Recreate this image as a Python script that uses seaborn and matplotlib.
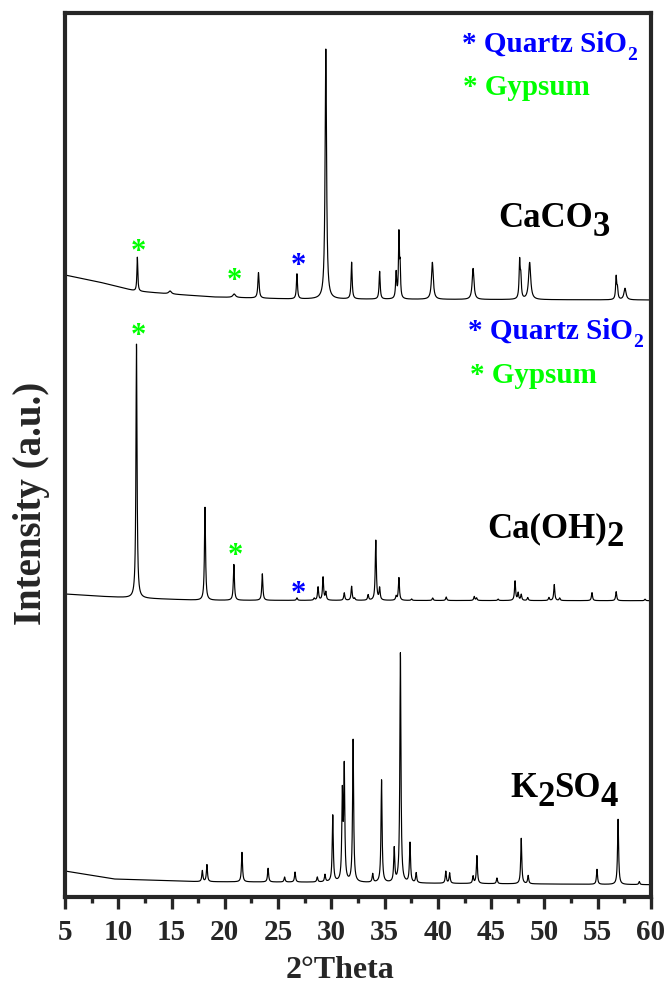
import numpy as np
import pandas as pd
import seaborn as sns
import matplotlib.pyplot as plt
from matplotlib.ticker import MultipleLocator

# ---- data (2theta in deg, intensity in a.u.) ----
# CaCO3 (top trace)
caco3_bg_x = [5.0, 8.2, 11.6, 14.9, 19.0, 26.2, 60.0]
caco3_bg_y = [622, 615, 606, 603, 600, 598, 597]
caco3_pos = [11.79, 14.86, 20.88, 23.16, 26.77, 29.48, 31.90, 34.53, 36.08, 36.34,
             36.45, 39.48, 43.30, 47.67, 47.78, 48.61, 56.73, 56.85, 57.56]
caco3_h = [34, 3, 3.5, 25.5, 25, 250, 36.7, 27.7, 26, 63,
           30, 37, 31, 37, 20, 37, 22.5, 10, 11.5]
caco3_w = [0.10, 0.30, 0.30, 0.14, 0.12, 0.16, 0.12, 0.12, 0.12, 0.10,
           0.10, 0.20, 0.20, 0.12, 0.12, 0.24, 0.12, 0.12, 0.24]

# Ca(OH)2 (middle trace)
caoh2_bg_x = [5.0, 8.3, 11.3, 17.7, 60.0]
caoh2_bg_y = [303, 300.7, 299, 296.7, 296.3]
caoh2_pos = [11.71, 18.14, 20.85, 23.52, 26.77, 28.39, 28.75, 29.22, 29.48, 31.21,
             31.90, 32.18, 33.45, 34.17, 34.53, 36.08, 36.34, 37.53, 39.51, 40.78,
             43.41, 43.63, 45.65, 47.24, 47.53, 47.82, 48.43, 50.42, 50.92, 51.43,
             54.46, 56.73, 59.44]
caoh2_h = [254, 93, 35.8, 26.5, 2.5, 2, 13.2, 23, 8, 7.5,
           14, 2, 5.5, 60, 12, 4, 22.7, 1.5, 2.5, 3.5,
           4, 2.5, 1.5, 19.4, 7.5, 6, 3, 3, 16, 2.5,
           8, 9, 1.5]

# K2SO4 (bottom trace)
k2so4_bg_x = [5.0, 5.3, 9.6, 17.6, 29.8, 38.9, 49.7, 60.0]
k2so4_bg_y = [26, 25.5, 18, 15.3, 14.7, 13.7, 13, 12.3]
k2so4_pos = [17.89, 18.32, 21.61, 24.06, 25.61, 26.59, 28.68, 29.40, 30.13, 31.03,
             31.21, 32.04, 33.88, 34.71, 35.90, 36.48, 37.38, 37.96, 40.74, 41.10,
             43.30, 43.66, 45.54, 47.82, 48.47, 54.93, 56.91, 58.90]
k2so4_h = [11, 17, 29.5, 13.7, 5, 10, 5, 7.3, 66.6, 85,
           111.6, 142.3, 8.5, 102.5, 33.6, 229.6, 39.8, 9.8, 12, 10.3,
           7.2, 27.8, 5.7, 45.5, 8.2, 15, 65.2, 3]

# asterisk markers: (2theta, height, colour)
marks_x = [11.85, 20.86, 26.87, 11.85, 20.95, 26.87]
marks_y = [638, 609, 624, 554, 334, 296]
marks_c = ['g', 'g', 'b', 'g', 'g', 'b']

GREEN = '#00FF00'
BLUE = '#0000FF'
DESC = 0.216  # descent / em of the serif font


def pattern(tt, bg_x, bg_y, pos, h, w=None):
    """ background plus lorentzian peaks """
    if w is None:
        w = [0.12] * len(pos)
    y = np.interp(tt, bg_x, bg_y)
    for p, a, g in zip(pos, h, w):
        hw = g / 2.0
        y = y + a * hw**2 / ((tt - p)**2 + hw**2)
    return y


def formula(ax, x, y, parts, color='black'):
    """ parts: (text, fontsize, baseline shift in pt) """
    s, fs, sh = parts[0]
    prev = ax.text(x, y, s, fontsize=fs, color=color, fontweight='bold',
                   ha='left', va='baseline')
    psh, pfs = sh, fs
    for s, fs, sh in parts[1:]:
        off = (sh - psh) + DESC * (pfs - fs)
        prev = ax.annotate(s, xy=(1, 0), xycoords=prev, xytext=(0, off),
                           textcoords='offset points', fontsize=fs, color=color,
                           fontweight='bold', ha='left', va='bottom')
        psh, pfs = sh, fs


sns.set_style('ticks')
plt.rcParams['font.family'] = ['Liberation Serif', 'DejaVu Serif']
plt.rcParams['font.weight'] = 'bold'
plt.rcParams['axes.labelweight'] = 'bold'

tt = np.round(np.arange(5.0, 60.0001, 0.01), 3)
df = pd.DataFrame({
    '2theta': np.concatenate([tt, tt, tt]),
    'I': np.concatenate([
        pattern(tt, caco3_bg_x, caco3_bg_y, caco3_pos, caco3_h, caco3_w),
        pattern(tt, caoh2_bg_x, caoh2_bg_y, caoh2_pos, caoh2_h),
        pattern(tt, k2so4_bg_x, k2so4_bg_y, k2so4_pos, k2so4_h)]),
    'sample': ['CaCO3'] * len(tt) + ['Ca(OH)2'] * len(tt) + ['K2SO4'] * len(tt),
})

fig = plt.figure(figsize=(6.67, 9.87), dpi=100)
ax = fig.add_axes([65 / 667, 89 / 987, 586 / 667, 884 / 987])

sns.lineplot(data=df, x='2theta', y='I', units='sample', estimator=None,
             color='black', lw=0.85, ax=ax, legend=False)

ax.set_xlim(5, 60)
ax.set_ylim(0, 884)
ax.xaxis.set_major_locator(MultipleLocator(5))
ax.xaxis.set_minor_locator(MultipleLocator(2.5))
ax.set_yticks([])
for sp in ax.spines.values():
    sp.set_linewidth(3)
ax.tick_params(axis='x', which='major', direction='out', length=8.3, width=2.4,
               labelsize=21, pad=7)
ax.tick_params(axis='x', which='minor', direction='out', length=4.3, width=2.4)

ax.set_xlabel('2°Theta', fontsize=23, fontweight='bold')
ax.set_ylabel('Intensity (a.u.)', fontsize=28, fontweight='bold')
ax.xaxis.set_label_coords(0.469, -0.0656)
ax.yaxis.set_label_coords(-0.026, 0.446)

# phase markers
for x, y, c in zip(marks_x, marks_y, marks_c):
    ax.text(x, y, '*', fontsize=22, fontweight='bold', ha='center', va='baseline',
            color=GREEN if c == 'g' else BLUE)

# legends (one per upper trace)
for lx, ly, gx, gy in [(42.26, 846, 42.35, 803), (42.82, 559, 43.01, 515)]:
    formula(ax, lx, ly, [('* Quartz SiO', 21, 0), ('2', 14, -5.5)], color=BLUE)
    ax.text(gx, gy, '* Gypsum', fontsize=21, fontweight='bold', color=GREEN,
            ha='left', va='baseline')

# sample names
formula(ax, 45.64, 671, [('CaCO', 25, 0), ('3', 25, -6.5)])
formula(ax, 44.61, 361, [('Ca(OH)', 25, 0), ('2', 25, -6.5)])
formula(ax, 46.76, 101, [('K', 25, 0), ('2', 25, -6.5), ('SO', 25, 0), ('4', 25, -6.5)])

plt.savefig('out.png', dpi=100)
